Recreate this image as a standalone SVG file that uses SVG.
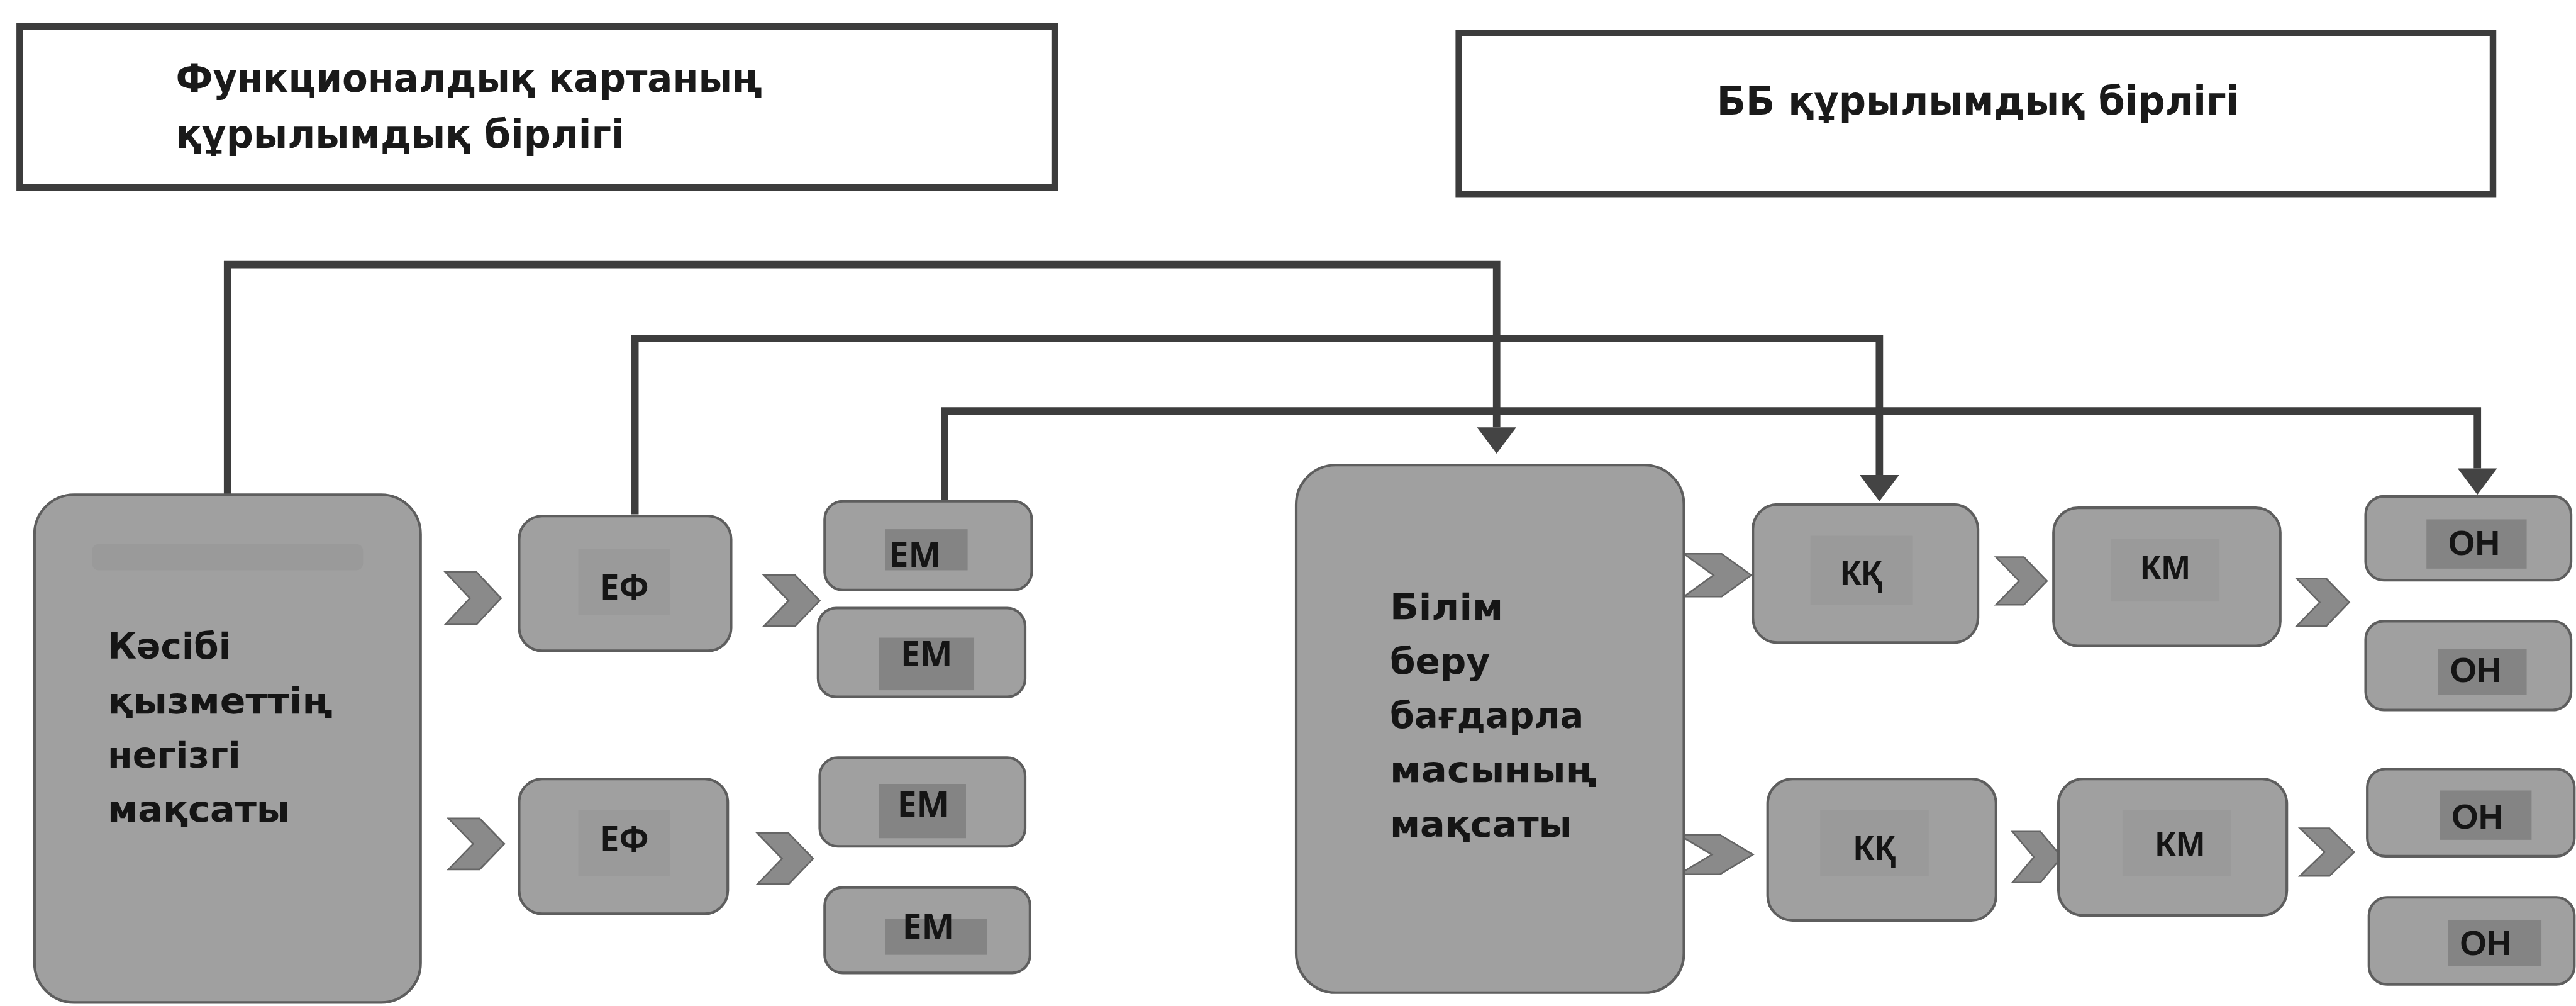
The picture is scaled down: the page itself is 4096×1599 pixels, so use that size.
<svg xmlns="http://www.w3.org/2000/svg" width="4096" height="1599" viewBox="0 0 4096 1599">
<defs>
<style>
.title{fill:#ffffff;stroke:#3c3c3c;stroke-width:4}
.ttext{font-family:"DejaVu Sans",Verdana,sans-serif;font-weight:bold;font-size:24px;fill:#1a1a1a}
.box{fill:#a0a0a0;stroke:#5e5e5e;stroke-width:1.6}
.inner{fill:#848484}
.faint{fill:#9a9a9a}
.btext{font-family:"DejaVu Sans",Verdana,sans-serif;font-weight:bold;font-size:21.5px;fill:#151515}
.lbl{font-family:"Open Sans","Liberation Sans",sans-serif;font-weight:bold;font-size:21px;fill:#151515;text-anchor:middle}
.lbl2{font-family:"Liberation Sans",Arial,sans-serif;font-weight:bold;font-size:21px;fill:#151515;text-anchor:middle}
.chev{fill:#8a8a8a;stroke:#666666;stroke-width:1}
.conn{fill:none;stroke:#3d3d3d;stroke-width:4.5;stroke-linejoin:miter}
</style>
<marker id="arr" markerUnits="userSpaceOnUse" viewBox="0 0 16 24" markerWidth="16" markerHeight="24" refX="0" refY="12" orient="auto">
<path d="M0,0 L16,12 L0,24 Z" fill="#444444"/>
</marker>
</defs>
<rect x="0" y="0" width="4096" height="1599" fill="#ffffff"/>
<g transform="scale(2.6122)">
<g id="title-left">
<rect class="title" x="12" y="16" width="630" height="98"/>
<text class="ttext" x="107" y="56" textLength="357" lengthAdjust="spacingAndGlyphs">Функционалдық картаның</text>
<text class="ttext" x="107" y="90" textLength="273" lengthAdjust="spacingAndGlyphs">құрылымдық бірлігі</text>
</g>
<g id="title-right">
<rect class="title" x="888" y="20" width="629.5" height="98"/>
<text class="ttext" x="1045" y="69.5" textLength="318" lengthAdjust="spacingAndGlyphs">ББ құрылымдық бірлігі</text>
</g>

<g id="connectors">
<path class="conn" d="M138.5,301 V161 H911 V260" marker-end="url(#arr)"/>
<path class="conn" d="M386.5,313 V206 H1144 V289" marker-end="url(#arr)"/>
<path class="conn" d="M575,304 V250 H1508 V285" marker-end="url(#arr)"/>
<g id="chevrons">
<polygon class="chev" points="271,348 290,348 305,364 290,380 271,380 286,364"/>
<polygon class="chev" points="465,350 484,350 499,365.5 484,381 465,381 480,365.5"/>
<polygon class="chev" points="273,498 292,498 307,513.5 292,529 273,529 288,513.5"/>
<polygon class="chev" points="461,507 480,507 495,522.5 480,538 461,538 476,522.5"/>
<polygon class="chev" points="1025,337 1048,337 1066,350 1048,363 1025,363 1043,350"/>
<polygon class="chev" points="1215,339 1232,339 1246,353.5 1232,368 1215,368 1229,353.5"/>
<polygon class="chev" points="1398,352 1416,352 1430,366.5 1416,381 1398,381 1412,366.5"/>
<polygon class="chev" points="1022,508 1047,508 1067,520 1047,532 1022,532 1042,520"/>
<polygon class="chev" points="1225,506 1242,506 1255,521.5 1242,537 1225,537 1238,521.5"/>
<polygon class="chev" points="1400,504 1418,504 1433,518.5 1418,533 1400,533 1415,518.5"/>
</g>
</g>

<g id="node-kasibi">
<rect class="box" x="21" y="301" width="235" height="309" rx="24"/>
<rect class="faint" x="56" y="331" width="165" height="16" rx="4"/>
<text class="btext" x="65.5" y="401" textLength="75" lengthAdjust="spacingAndGlyphs">Кәсібі</text>
<text class="btext" x="65.5" y="434" textLength="137" lengthAdjust="spacingAndGlyphs">қызметтің</text>
<text class="btext" x="65.5" y="467" textLength="81" lengthAdjust="spacingAndGlyphs">негізгі</text>
<text class="btext" x="65.5" y="500" textLength="111" lengthAdjust="spacingAndGlyphs">мақсаты</text>
</g>

<g id="node-ef1">
<rect class="box" x="316" y="314" width="129" height="82" rx="14"/>
<rect class="faint" x="352" y="334" width="56" height="40"/>
<text class="lbl" x="380" y="365">ЕФ</text>
</g>
<g id="node-ef2">
<rect class="box" x="316" y="474" width="127" height="82" rx="14"/>
<rect class="faint" x="352" y="493" width="56" height="40"/>
<text class="lbl" x="380" y="518">ЕФ</text>
</g>

<g id="node-em1">
<rect class="box" x="502" y="305" width="126" height="54" rx="11"/>
<rect class="inner" x="539" y="322" width="50" height="25"/>
<text class="lbl" x="557" y="345">ЕМ</text>
</g>
<g id="node-em2">
<rect class="box" x="498" y="370" width="126" height="54" rx="11"/>
<rect class="inner" x="535" y="388" width="58" height="32"/>
<text class="lbl" x="564" y="405.5">ЕМ</text>
</g>
<g id="node-em3">
<rect class="box" x="499" y="461" width="125" height="54" rx="11"/>
<rect class="inner" x="535" y="477" width="53" height="33"/>
<text class="lbl" x="562" y="497">ЕМ</text>
</g>
<g id="node-em4">
<rect class="box" x="502" y="540" width="125" height="52" rx="11"/>
<rect class="inner" x="539" y="559" width="62" height="22"/>
<text class="lbl" x="565" y="571">ЕМ</text>
</g>

<g id="node-bilim">
<rect class="box" x="789" y="283" width="236" height="321" rx="24"/>
<text class="btext" x="846" y="377" textLength="69" lengthAdjust="spacingAndGlyphs">Білім</text>
<text class="btext" x="846" y="410" textLength="61" lengthAdjust="spacingAndGlyphs">беру</text>
<text class="btext" x="846" y="443" textLength="118" lengthAdjust="spacingAndGlyphs">бағдарла</text>
<text class="btext" x="846" y="476" textLength="126" lengthAdjust="spacingAndGlyphs">масының</text>
<text class="btext" x="846" y="509" textLength="111" lengthAdjust="spacingAndGlyphs">мақсаты</text>
</g>

<g id="node-kk1">
<rect class="box" x="1067" y="307" width="137" height="84" rx="15"/>
<rect class="faint" x="1102" y="326" width="62" height="42"/>
<text class="lbl2" x="1133" y="356">КҚ</text>
</g>
<g id="node-km1">
<rect class="box" x="1250" y="309" width="138" height="84" rx="15"/>
<rect class="faint" x="1285" y="328" width="66" height="38"/>
<text class="lbl2" x="1318" y="352.5">КМ</text>
</g>
<g id="node-kk2">
<rect class="box" x="1076" y="474" width="139" height="86" rx="15"/>
<rect class="faint" x="1108" y="493" width="66" height="40"/>
<text class="lbl2" x="1141" y="523.5">КҚ</text>
</g>
<g id="node-km2">
<rect class="box" x="1253" y="474" width="139" height="83" rx="15"/>
<rect class="faint" x="1292" y="493" width="66" height="40"/>
<text class="lbl2" x="1327" y="521">КМ</text>
</g>

<g id="node-on1">
<rect class="box" x="1440" y="302" width="125" height="51" rx="11"/>
<rect class="inner" x="1477" y="316" width="61" height="30"/>
<text class="lbl2" x="1506" y="337.5">ОН</text>
</g>
<g id="node-on2">
<rect class="box" x="1440" y="378" width="125" height="54" rx="11"/>
<rect class="inner" x="1484" y="395" width="54" height="28"/>
<text class="lbl2" x="1507" y="415">ОН</text>
</g>
<g id="node-on3">
<rect class="box" x="1441" y="468" width="126" height="53" rx="11"/>
<rect class="inner" x="1485" y="481" width="56" height="30"/>
<text class="lbl2" x="1508" y="504">ОН</text>
</g>
<g id="node-on4">
<rect class="box" x="1442" y="546" width="125" height="53" rx="11"/>
<rect class="inner" x="1490" y="560" width="57" height="28"/>
<text class="lbl2" x="1513" y="581">ОН</text>
</g>
</g>
</svg>
